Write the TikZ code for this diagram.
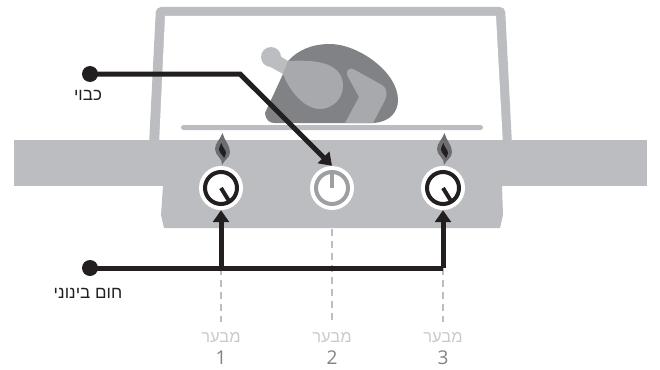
\documentclass[tikz,border=0pt]{standalone}
\usepackage{fontspec}
\setmainfont{Open Sans}
\newfontfamily\hebfont[Script=Hebrew]{Liberation Sans}
\TeXXeTstate=1
\usetikzlibrary{arrows.meta}
\definecolor{ovengray}{HTML}{BBBDC0}
\definecolor{birdgray}{HTML}{808285}
\definecolor{leggray}{HTML}{A7A9AC}
\definecolor{ringgray}{HTML}{9D9FA2}
\definecolor{flamegray}{HTML}{6D6E71}
\definecolor{inkblack}{HTML}{231F20}
\definecolor{palegray}{HTML}{C9CACC}
\tikzset{plate/.style={circle, fill=white, minimum size=44pt, inner sep=0pt}}
\tikzset{ring/.style={circle, draw=#1, line width=4pt, minimum size=32pt, inner sep=0pt}}
\tikzset{dot/.style={circle, fill=inkblack, minimum size=16pt, inner sep=0pt}}
\tikzset{leader/.style={draw=inkblack, line width=5pt}}
\tikzset{leadarrow/.style={leader, -{Triangle[length=12pt, width=16pt]}}}
\tikzset{burnerline/.style={draw=ovengray, line width=2.5pt, dash pattern=on 7pt off 5pt}}
\tikzset{burnertext/.style={text=palegray, font=\hebfont\fontsize{16.5}{16.5}\selectfont}}
\tikzset{numtext/.style={text=birdgray, font=\fontsize{19}{19}\selectfont}}
\tikzset{keytext/.style={text=inkblack, font=\hebfont\fontsize{17}{17}\selectfont}}
\newcommand{\flame}[1]{
\fill[flamegray, shift={(#1,0)}] (1.5,133) .. controls (3,140) and (9,145) .. (9,152)
.. controls (9,158) and (3,160) .. (1,165) .. controls (2,158) and (-6,156) .. (-6,149)
.. controls (-6,143) and (-1,140) .. (1.5,133) -- cycle;
\fill[inkblack, shift={(#1,0)}] (0.5,143) .. controls (1,147) and (5,150) .. (5,153)
.. controls (5,156) and (3,157) .. (3,158) .. controls (2,155) and (-2,153) .. (-2,149)
.. controls (-2,146) and (0,145) .. (0.5,143) -- cycle;
}
\begin{document}
\begin{tikzpicture}[x=1pt, y=-1pt]
\useasboundingbox (0,0) rectangle (660,369);

\fill[ovengray, rounded corners=5pt] (149,145) -- (156,7) -- (505,7) -- (512,145) -- cycle;
\fill[white] (159,145) -- (165,16) -- (496,16) -- (503,145) -- cycle;

\fill[birdgray] (265,113) .. controls (266,121) and (270,123) .. (275,123)
-- (373,123) .. controls (390,122) and (398,112) .. (398,100)
.. controls (398,72) and (358,44) .. (330,44) .. controls (312,44) and (298,50) .. (288,61)
-- (283,74) -- cycle;
\fill[ovengray] (271,57) circle (10);
\fill[ovengray] (275,53) -- (288,61) -- (283,74) -- (267,65) -- cycle;
\fill[leggray] (288,61) .. controls (310,60) and (343,60) .. (343,86)
.. controls (343,100) and (331,109) .. (320,109) .. controls (303,109) and (288,88) .. (283,74) -- cycle;
\fill[leggray] (347,75) .. controls (346,69) and (351,67) .. (355,70)
-- (382,85) .. controls (388,89) and (387,96) .. (385,100)
-- (373,123) -- (345,123) -- (359,97) -- cycle;

\fill[ovengray, rounded corners=2.5pt] (181,125) rectangle (483,130);

\fill[ovengray] (14,140) rectangle (647,186);
\fill[ovengray] (163,186) -- (161,215) -- (164,228) -- (500,228) -- (503,215) -- (502,186) -- cycle;

\flame{221}
\flame{443}

\node[plate] (burnA) at (221,188) {};
\node[plate] (burnB) at (332,188) {};
\node[plate] (burnC) at (443,188) {};
\node[ring=inkblack] (ringA) at (burnA) {};
\node[ring=ringgray] (ringB) at (burnB) {};
\node[ring=inkblack] (ringC) at (burnC) {};
\coordinate (tipA) at (229,201);
\coordinate (tipC) at (451,201);
\coordinate (topB) at (332,172);
\draw[draw=inkblack, line width=4pt] (burnA.center) -- (tipA);
\draw[draw=inkblack, line width=4pt] (burnC.center) -- (tipC);
\draw[draw=ringgray, line width=4pt] (burnB.center) -- (topB);

\node[burnertext] (labA) at (221,338) {\beginR מבער\endR};
\node[burnertext] (labB) at (332,338) {\beginR מבער\endR};
\node[burnertext] (labC) at (443,338) {\beginR מבער\endR};
\node[numtext] (numA) at (221,358) {1};
\node[numtext] (numB) at (332,358) {2};
\node[numtext] (numC) at (443,358) {3};

\coordinate (endA) at (221,322);
\coordinate (endB) at (332,322);
\coordinate (endC) at (443,322);
\coordinate (startB) at (332,229);
\coordinate (jointA) at (221,268);
\coordinate (jointC) at (443,268);
\coordinate (bend) at (240,74);

\draw[burnerline] (jointA) -- (endA);
\draw[burnerline] (startB) -- (endB);
\draw[burnerline] (jointC) -- (endC);

\node[dot] (off) at (90,74) {};
\node[dot] (mid) at (90,268) {};
\node[keytext] (offtext) at (88,95) {\beginR כבוי\endR};
\node[keytext] (midtext) at (88,293) {\beginR חום בינוני\endR};

\draw[leadarrow] (off.center) -- (bend) -- (burnB.north);
\draw[leader] (mid.center) -- (jointC);
\draw[leadarrow] (jointA) -- (burnA.south);
\draw[leadarrow] (jointC) -- (burnC.south);

\end{tikzpicture}
\end{document}
